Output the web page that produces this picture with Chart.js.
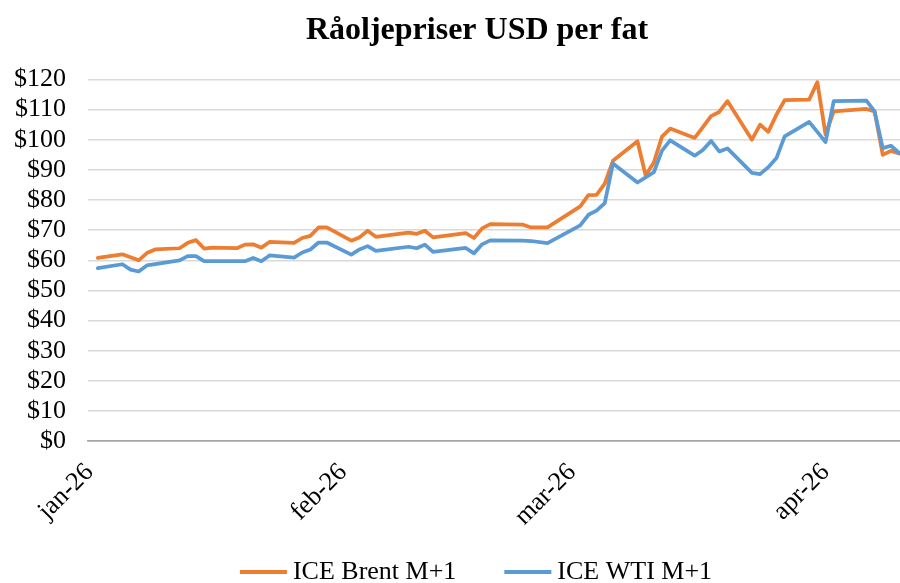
<!DOCTYPE html>
<html lang="no">
<head>
<meta charset="UTF-8">
<title>Råoljepriser</title>
<script src="https://cdn.jsdelivr.net/npm/chart.js@4.4.1/dist/chart.umd.min.js"></script>
<style>
  html, body { margin: 0; padding: 0; background: #fff; overflow: hidden; }
  #wrap { width: 900px; height: 583px; overflow: hidden; }
</style>
</head>
<body>
<!-- the original Excel chart is a bit wider than the picture and cut on the right -->
<div id="wrap"><canvas id="oil" width="952" height="583"></canvas></div>
<script>
// data
const chartTitle = 'Råoljepriser USD per fat';
const seriesNames = ['ICE Brent M+1', 'ICE WTI M+1'];
const seriesColors = ['#ed7d31', '#5b9bd5'];

const dates = [
  '2026-01-02','2026-01-05','2026-01-06','2026-01-07','2026-01-08','2026-01-09',
  '2026-01-12','2026-01-13','2026-01-14','2026-01-15','2026-01-16',
  '2026-01-19','2026-01-20','2026-01-21','2026-01-22','2026-01-23',
  '2026-01-26','2026-01-27','2026-01-28','2026-01-29','2026-01-30',
  '2026-02-02','2026-02-03','2026-02-04','2026-02-05',
  '2026-02-09','2026-02-10','2026-02-11','2026-02-12',
  '2026-02-16','2026-02-17','2026-02-18','2026-02-19',
  '2026-02-23','2026-02-24','2026-02-26',
  '2026-03-02','2026-03-03','2026-03-04','2026-03-05','2026-03-06',
  '2026-03-09','2026-03-10','2026-03-11','2026-03-12','2026-03-13',
  '2026-03-16','2026-03-17','2026-03-18','2026-03-19','2026-03-20',
  '2026-03-23','2026-03-24','2026-03-25','2026-03-26','2026-03-27',
  '2026-03-30','2026-03-31','2026-04-01','2026-04-02',
  '2026-04-06','2026-04-07','2026-04-08','2026-04-09','2026-04-10'
];

const brent = [
  60.8, 62.0, 61.0, 60.0, 62.4, 63.6,
  64.0, 65.8, 66.7, 63.9, 64.2,
  64.0, 65.2, 65.3, 64.2, 66.1,
  65.8, 67.4, 68.1, 70.9, 70.9,
  66.5, 67.6, 69.8, 67.8,
  69.2, 68.8, 69.8, 67.6,
  69.0, 67.4, 70.6, 72.0,
  71.8, 70.9, 70.9,
  77.9, 81.6, 81.7, 85.4, 93.0,
  99.5, 88.1, 92.4, 101.0, 103.7,
  100.6, 104.2, 107.8, 109.2, 112.8,
  100.0, 105.0, 102.6, 108.3, 113.1,
  113.3, 119.1, 101.7, 109.4,
  110.2, 109.4, 95.0, 96.3, 95.4
];

const wti = [
  57.4, 58.7, 56.9, 56.3, 58.3, 58.7,
  60.0, 61.4, 61.4, 59.7, 59.7,
  59.7, 59.7, 60.8, 59.7, 61.6,
  60.9, 62.6, 63.6, 65.9, 65.9,
  61.9, 63.6, 64.7, 63.1,
  64.5, 64.0, 65.2, 62.8,
  64.1, 62.3, 65.3, 66.6,
  66.5, 66.4, 65.7,
  71.6, 75.1, 76.5, 79.0, 92.1,
  85.8, 87.5, 89.2, 96.4, 99.8,
  94.7, 96.6, 99.6, 96.1, 97.1,
  89.0, 88.6, 90.9, 93.9, 101.1,
  105.9, 102.6, 99.2, 112.8,
  113.0, 109.4, 97.2, 98.0, 95.6
];

const monthTicks = ['2026-01-01', '2026-02-01', '2026-03-01', '2026-04-01'];
const monthLabels = ['jan-26', 'feb-26', 'mar-26', 'apr-26'];

const yTicks = [0, 10, 20, 30, 40, 50, 60, 70, 80, 90, 100, 110, 120];

// day number counted from 1 Jan 2026
function dayNo(s) {
  const p = s.split('-').map(Number);
  return (Date.UTC(p[0], p[1] - 1, p[2]) - Date.UTC(2026, 0, 1)) / 86400000;
}

const xs = dates.map(dayNo);
const tickDays = monthTicks.map(dayNo);

const serif = '"Liberation Serif", "Times New Roman", serif';
Chart.defaults.font.family = serif;
Chart.defaults.color = '#000';

// Excel style legend: short thick line + label, centred under the chart
const legendPlugin = {
  id: 'bottomLegend',
  afterDraw(chart) {
    const c = chart.ctx;
    const lineLen = 47, gapText = 6, gapItem = 48;
    c.save();
    c.font = '26px ' + serif;
    c.textBaseline = 'middle';
    const widths = seriesNames.map(n => lineLen + gapText + c.measureText(n).width);
    const total = widths.reduce((a, b) => a + b, 0) + gapItem * (widths.length - 1);
    let x = chart.width / 2 - total / 2;
    const y = chart.height - 11;
    seriesNames.forEach((n, i) => {
      c.strokeStyle = seriesColors[i];
      c.lineWidth = 4;
      c.beginPath();
      c.moveTo(x, y);
      c.lineTo(x + lineLen, y);
      c.stroke();
      c.fillStyle = '#000';
      c.fillText(n, x + lineLen + gapText, y);
      x += widths[i] + gapItem;
    });
    c.restore();
  }
};

const ctx = document.getElementById('oil').getContext('2d');
new Chart(ctx, {
  type: 'line',
  data: {
    datasets: [{
      label: seriesNames[0],
      data: xs.map((x, i) => ({ x: x, y: brent[i] })),
      borderColor: seriesColors[0],
      borderWidth: 3.75,
      order: 1
    }, {
      label: seriesNames[1],
      data: xs.map((x, i) => ({ x: x, y: wti[i] })),
      borderColor: seriesColors[1],
      borderWidth: 3.75,
      order: 0
    }]
  },
  options: {
    responsive: false,
    animation: false,
    layout: { padding: { top: 0, right: 12, left: 14, bottom: 43 } },
    elements: {
      point: { radius: 0 },
      line: { tension: 0, borderJoinStyle: 'round', borderCapStyle: 'round' }
    },
    scales: {
      x: {
        type: 'linear',
        min: -0.2,
        max: 104,
        afterBuildTicks: (scale) => { scale.ticks = tickDays.map(v => ({ value: v })); },
        ticks: {
          autoSkip: false,
          minRotation: 45,
          maxRotation: 45,
          padding: 8,
          font: { size: 26 },
          callback: (v) => monthLabels[tickDays.indexOf(v)]
        },
        grid: { display: false },
        border: { display: true, color: '#a6a6a6', width: 1.5 }
      },
      y: {
        min: 0,
        max: 120,
        afterBuildTicks: (scale) => { scale.ticks = yTicks.map(v => ({ value: v })); },
        // chart.js counts the tick padding on both sides of the labels
        afterFit: (scale) => { scale.width -= 22; },
        ticks: {
          autoSkip: false,
          padding: 22,
          font: { size: 26 },
          callback: (v) => '$' + v
        },
        grid: {
          drawTicks: false,
          color: (c) => c.tick && c.tick.value === 0 ? '#a6a6a6' : '#d9d9d9',
          lineWidth: 1.5
        },
        border: { display: false }
      }
    },
    plugins: {
      title: {
        display: true,
        text: chartTitle,
        font: { size: 32, weight: 'bold' },
        color: '#000',
        padding: { top: 12, bottom: 29 }
      },
      legend: { display: false },
      tooltip: { enabled: false }
    }
  },
  plugins: [legendPlugin]
});
</script>
</body>
</html>
